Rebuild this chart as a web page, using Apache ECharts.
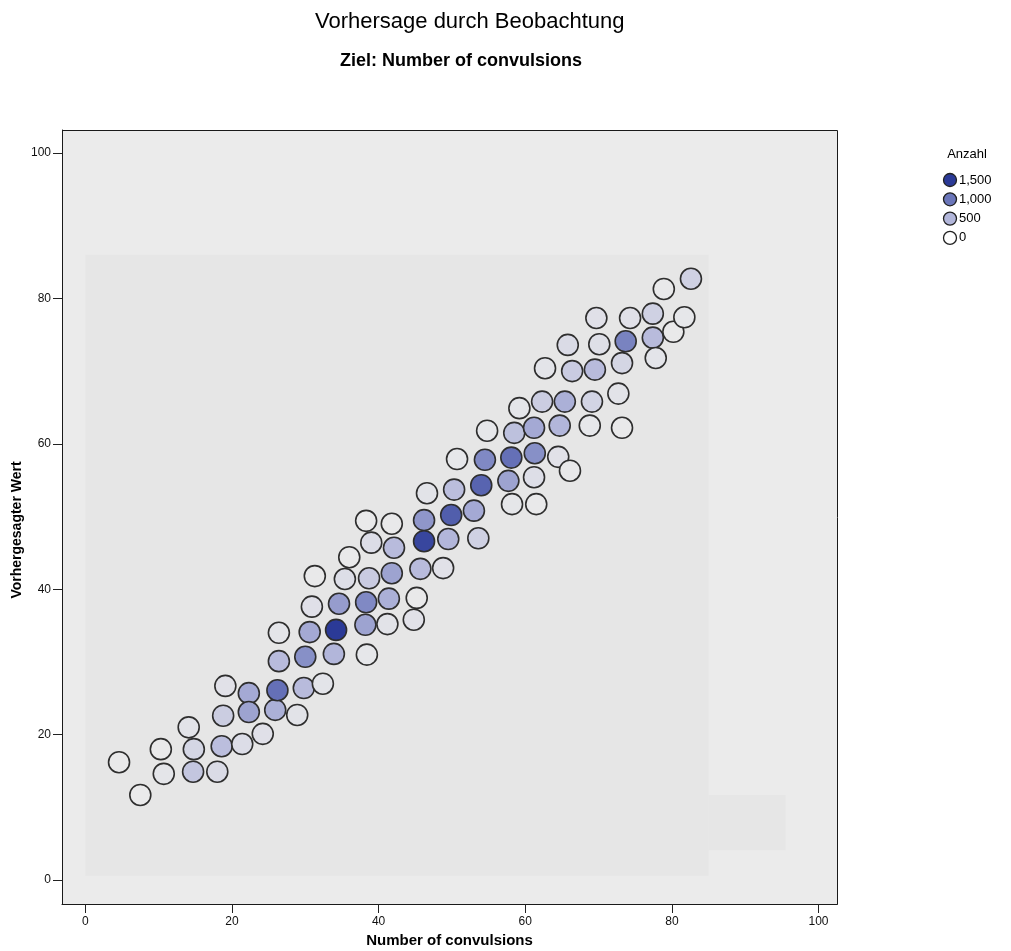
<!DOCTYPE html>
<html>
<head>
<meta charset="utf-8">
<script src="https://cdn.jsdelivr.net/npm/echarts@6/dist/echarts.min.js"></script>
<style>
  html, body { margin: 0; padding: 0; background: #ffffff; }
  #chart { width: 1011px; height: 951px; }
</style>
</head>
<body>
<div id="chart"></div>
<script>
// Observed number of convulsions (x) for each binned point
const observed = [
  4.6, 7.5, 10.3, 10.7, 14.1, 14.8, 14.7, 18.0, 18.8, 18.6,
  19.1, 21.4, 22.3, 22.3, 24.2, 25.9, 26.2, 26.4, 26.4, 28.9,
  29.8, 30.0, 30.9, 30.6, 31.3, 32.4, 33.9, 34.2, 34.6, 35.4,
  36.0, 38.2, 38.3, 38.4, 38.7, 38.3, 39.0, 41.2, 41.4, 41.8,
  41.8, 42.1, 44.8, 45.2, 45.7, 46.2, 46.2, 46.6, 48.8, 49.5,
  49.9, 50.3, 50.7, 53.0, 53.6, 54.0, 54.5, 54.8, 58.2, 57.7,
  58.1, 58.5, 59.2, 61.3, 61.2, 61.2, 61.5, 62.7, 62.3, 64.5,
  64.7, 65.4, 65.8, 66.1, 66.4, 68.8, 69.1, 69.5, 69.7, 70.1,
  72.7, 73.2, 73.2, 73.7, 74.3, 77.4, 77.4, 77.8, 78.9, 80.2,
  81.7, 82.6
];
// Predicted value (y) for each binned point
const predicted = [
  16.2, 11.7, 18.0, 14.6, 21.0, 18.0, 14.9, 14.9, 22.6, 18.4,
  26.7, 18.7, 25.7, 23.1, 20.1, 23.4, 26.1, 30.1, 34.0, 22.7,
  26.4, 30.7, 37.6, 34.1, 41.8, 27.0, 31.1, 34.4, 38.0, 41.4,
  44.4, 35.1, 38.2, 31.0, 41.5, 49.4, 46.4, 35.2, 38.7, 42.2,
  49.0, 45.7, 35.8, 38.8, 42.8, 49.5, 46.6, 53.2, 42.9, 46.9,
  50.2, 53.7, 57.9, 50.8, 47.0, 54.3, 57.8, 61.8, 51.7, 54.9,
  58.1, 61.5, 64.9, 58.7, 55.4, 62.2, 51.7, 70.4, 65.8, 58.2,
  62.5, 65.8, 73.6, 56.3, 70.0, 62.5, 65.8, 70.2, 77.3, 73.7,
  66.9, 62.2, 71.1, 74.1, 77.3, 74.6, 77.9, 71.8, 81.3, 75.4,
  77.4, 82.7
];
// Number of records in each bin
const counts = [
  20, 10, 20, 60, 80, 200, 350, 150, 280, 420,
  90, 130, 600, 650, 100, 550, 1050, 450, 60, 80,
  450, 800, 100, 600, 20, 70, 500, 1500, 700, 120,
  20, 650, 850, 40, 300, 20, 130, 80, 550, 650,
  20, 450, 90, 20, 450, 750, 1400, 80, 90, 500,
  1200, 420, 40, 600, 250, 1150, 850, 40, 50, 650,
  1050, 400, 60, 800, 120, 600, 15, 70, 280, 90,
  500, 550, 150, 15, 300, 40, 220, 450, 100, 110,
  80, 15, 200, 900, 100, 450, 250, 70, 15, 15,
  40, 250
];

// Axis tick values and the padded axis extents around them
const axisTicks = [0, 20, 40, 60, 80, 100];
const xRange = [-3.18, 102.52];
const yRange = [-3.30, 103.16];

const legendLabels = ['1,500', '1,000', '500', '0'];
const legendColors = ['#2b3a97', '#6b76ba', '#b2b6da', '#ffffff'];

// Shaded regions behind the points, in data units: [x0, y0, x1, y1]
const bands = [
  [0, 0.6, 85, 86],
  [85, 4.1, 95.5, 11.7]
];

const FRAME = { left: 62, top: 130, right: 837, bottom: 904 };
const W = 1011, H = 951;
const SANS = '"Liberation Sans", Arial, Helvetica, sans-serif';

const chart = echarts.init(document.getElementById('chart'), null, { renderer: 'canvas' });

const points = observed.map((x, i) => [x, predicted[i], counts[i]]);

function legendGraphics() {
  const els = [{
    type: 'text', x: 967, y: 154, z: 10,
    style: { text: 'Anzahl', font: '13px ' + SANS, fill: '#000', textAlign: 'center', textVerticalAlign: 'middle' }
  }];
  legendLabels.forEach((label, i) => {
    const cy = 180 + i * 19.3;
    els.push({
      type: 'circle', shape: { cx: 950, cy: cy, r: 6.5 }, z: 10,
      style: { fill: legendColors[i], stroke: '#222', lineWidth: 1.3 }
    });
    els.push({
      type: 'text', x: 959, y: cy, z: 10,
      style: { text: label, font: '13px ' + SANS, fill: '#000', textVerticalAlign: 'middle' }
    });
  });
  return els;
}

const tickStyle = { show: true, length: 9, lineStyle: { color: '#222', width: 1 } };
const lineStyle = { show: true, onZero: false, lineStyle: { color: '#1a1a1a', width: 1 } };

const option = {
  backgroundColor: '#ffffff',
  animation: false,
  title: [
    {
      text: 'Vorhersage durch Beobachtung',
      left: 310, top: 6,
      textStyle: { fontFamily: SANS, fontSize: 22, fontWeight: 'normal', color: '#000' }
    },
    {
      text: 'Ziel: Number of convulsions',
      left: 335, top: 47,
      textStyle: { fontFamily: SANS, fontSize: 18, fontWeight: 'bold', color: '#000' }
    }
  ],
  grid: {
    left: FRAME.left, right: W - FRAME.right, top: FRAME.top, bottom: H - FRAME.bottom,
    outerBoundsMode: 'none', containLabel: false
  },
  xAxis: {
    type: 'value', min: xRange[0], max: xRange[1],
    axisLine: lineStyle,
    axisTick: Object.assign({ customValues: axisTicks }, tickStyle),
    axisLabel: { customValues: axisTicks, margin: 12, color: '#111', fontSize: 12, fontFamily: SANS },
    splitLine: { show: false }
  },
  yAxis: {
    type: 'value', min: yRange[0], max: yRange[1],
    axisLine: lineStyle,
    axisTick: Object.assign({ customValues: axisTicks }, tickStyle),
    axisLabel: { customValues: axisTicks, margin: 11, color: '#111', fontSize: 12, fontFamily: SANS },
    splitLine: { show: false }
  },
  visualMap: {
    show: false, type: 'continuous', dimension: 2, min: 0, max: 1500,
    inRange: { color: ['#ebebeb', '#b2b6da', '#6b76ba', '#2b3a97'] }
  },
  series: [{
    type: 'scatter',
    data: points,
    symbol: 'circle',
    symbolSize: 21,
    itemStyle: { borderColor: '#2e2e2e', borderWidth: 1.6, opacity: 1 },
    z: 5
  }],
  graphic: []
};

chart.setOption(option);

// Frame, shaded regions, axis titles and legend
const bg = [{
  type: 'rect', z: -20, silent: true,
  shape: { x: FRAME.left, y: FRAME.top, width: FRAME.right - FRAME.left, height: FRAME.bottom - FRAME.top },
  style: { fill: '#ebebeb' }
}];
bands.forEach(b => {
  const p0 = chart.convertToPixel({ gridIndex: 0 }, [b[0], b[1]]);
  const p1 = chart.convertToPixel({ gridIndex: 0 }, [b[2], b[3]]);
  bg.push({
    type: 'rect', z: -19, silent: true,
    shape: { x: p0[0], y: p1[1], width: p1[0] - p0[0], height: p0[1] - p1[1] },
    style: { fill: '#e6e6e6' }
  });
});
bg.push({
  type: 'rect', z: -1, silent: true,
  shape: { x: FRAME.left + 0.5, y: FRAME.top + 0.5, width: FRAME.right - FRAME.left, height: FRAME.bottom - FRAME.top },
  style: { fill: null, stroke: '#1a1a1a', lineWidth: 1 }
});
bg.push({
  type: 'text', x: (FRAME.left + FRAME.right) / 2, y: 941, z: 10,
  style: { text: 'Number of convulsions', font: 'bold 15px ' + SANS, fill: '#000', textAlign: 'center', textVerticalAlign: 'middle' }
});
bg.push({
  type: 'text', x: 17, y: 530, rotation: Math.PI / 2, z: 10,
  style: { text: 'Vorhergesagter Wert', font: 'bold 14px ' + SANS, fill: '#000', textAlign: 'center', textVerticalAlign: 'middle' }
});

chart.setOption({ graphic: bg.concat(legendGraphics()) });
</script>
</body>
</html>
